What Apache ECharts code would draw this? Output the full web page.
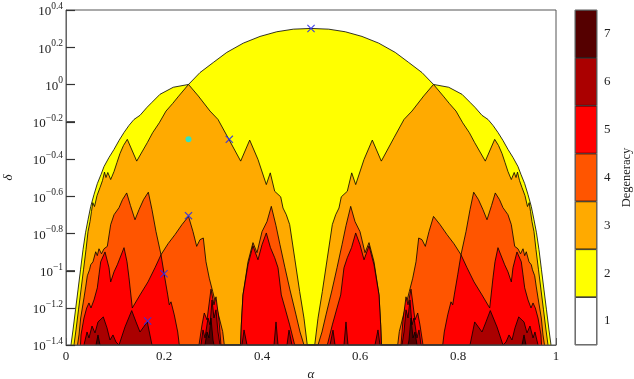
<!DOCTYPE html>
<html><head><meta charset="utf-8">
<script src="https://cdn.jsdelivr.net/npm/echarts@6/dist/echarts.min.js"></script>
<style>html,body{margin:0;padding:0;background:#fff}#c{width:634px;height:379px}</style>
</head><body><div id="c"></div>
<script>
// ---- data: upper boundaries [alpha, log10(delta)] of the region with degeneracy >= k ----
const deg2Boundary = [[0.0102,-1.4],[0.0143,-1.319],[0.0194,-1.211],[0.0245,-1.104],[0.0296,-0.996],[0.0347,-0.888],[0.0398,-0.797],[0.0449,-0.727],[0.0504,-0.656],[0.0571,-0.592],[0.0639,-0.533],[0.0714,-0.484],[0.0776,-0.441],[0.0878,-0.392],[0.098,-0.349],[0.1082,-0.301],[0.1184,-0.258],[0.1286,-0.220],[0.1388,-0.188],[0.151,-0.166],[0.1653,-0.123],[0.1755,-0.096],[0.1918,-0.053],[0.219,-0.015],[0.25,0],[0.2735,0.064],[0.3006,0.118],[0.328,0.172],[0.3618,0.222],[0.3959,0.258],[0.43,0.283],[0.4639,0.297],[0.5,0.301],
[0.5361,0.297],[0.57,0.283],[0.6041,0.258],[0.6382,0.222],[0.672,0.172],[0.6994,0.118],[0.7265,0.064],[0.75,0],[0.781,-0.015],[0.8082,-0.053],[0.8245,-0.096],[0.8347,-0.123],[0.849,-0.166],[0.8612,-0.188],[0.8714,-0.220],[0.8816,-0.258],[0.8918,-0.301],[0.902,-0.349],[0.9122,-0.392],[0.9224,-0.441],[0.9286,-0.484],[0.9361,-0.533],[0.9429,-0.592],[0.9496,-0.656],[0.9551,-0.727],[0.9602,-0.797],[0.9653,-0.888],[0.9704,-0.996],[0.9755,-1.104],[0.9806,-1.211],[0.9857,-1.319],[0.9898,-1.4]];

const deg3Boundary = [[0.0163,-1.4],[0.0204,-1.319],[0.0255,-1.211],[0.0306,-1.104],[0.0357,-0.996],[0.0408,-0.888],[0.0449,-0.791],[0.049,-0.737],[0.052,-0.683],[0.0547,-0.635],[0.0582,-0.656],[0.0633,-0.597],[0.0694,-0.554],[0.0745,-0.516],[0.0786,-0.471],[0.0816,-0.500],[0.0853,-0.473],[0.0912,-0.511],[0.098,-0.468],[0.1041,-0.419],[0.1102,-0.371],[0.1173,-0.328],[0.1251,-0.295],[0.1443,-0.412],[0.1659,-0.313],[0.1769,-0.259],[0.1904,-0.206],[0.2041,-0.143],[0.2178,-0.102],[0.2286,-0.067],[0.25,0],[0.27,-0.062],[0.2939,-0.143],[0.3102,-0.188],[0.3306,-0.286],[0.3565,-0.412],[0.3749,-0.299],[0.3918,-0.403],[0.4088,-0.538],[0.4169,-0.475],[0.4259,-0.574],[0.4382,-0.604],[0.4429,-0.664],[0.4496,-0.700],[0.4565,-0.753],[0.4667,-0.933],[0.4769,-1.113],[0.4857,-1.256],[0.4924,-1.4],
[0.5076,-1.4],[0.5143,-1.256],[0.5231,-1.113],[0.5333,-0.933],[0.5435,-0.753],[0.5504,-0.700],[0.5571,-0.664],[0.5618,-0.604],[0.5741,-0.574],[0.5831,-0.475],[0.5912,-0.538],[0.6082,-0.403],[0.6251,-0.299],[0.6435,-0.412],[0.6694,-0.286],[0.6898,-0.188],[0.7061,-0.143],[0.73,-0.062],[0.75,0],[0.7714,-0.067],[0.7822,-0.102],[0.7959,-0.143],[0.8096,-0.206],[0.8231,-0.259],[0.8341,-0.313],[0.8557,-0.412],[0.8749,-0.295],[0.8827,-0.328],[0.8898,-0.371],[0.8959,-0.419],[0.902,-0.468],[0.9088,-0.511],[0.9147,-0.473],[0.9184,-0.500],[0.9214,-0.471],[0.9255,-0.516],[0.9306,-0.554],[0.9367,-0.597],[0.9418,-0.656],[0.9453,-0.635],[0.948,-0.683],[0.951,-0.737],[0.9551,-0.791],[0.9592,-0.888],[0.9643,-0.996],[0.9694,-1.104],[0.9745,-1.211],[0.9796,-1.319],[0.9837,-1.4]];

const deg4Boundary = [[0.0235,-1.4],[0.0265,-1.346],[0.030,-1.255],[0.0367,-1.147],[0.0402,-1.088],[0.0435,-1.028],[0.048,-0.996],[0.0504,-0.969],[0.0551,-0.953],[0.0606,-0.899],[0.0639,-0.920],[0.0673,-0.883],[0.0724,-0.910],[0.0776,-0.883],[0.0843,-0.870],[0.0912,-0.753],[0.098,-0.700],[0.1082,-0.662],[0.1153,-0.619],[0.1239,-0.583],[0.1316,-0.651],[0.1408,-0.727],[0.149,-0.673],[0.1582,-0.619],[0.168,-0.579],[0.1755,-0.673],[0.1837,-0.791],[0.1939,-0.915],[0.2082,-0.856],[0.2224,-0.807],[0.2367,-0.753],[0.25,-0.709],[0.2592,-0.791],[0.2667,-0.870],[0.2735,-0.834],[0.2802,-0.825],[0.2857,-0.953],[0.2924,-1.041],[0.2994,-1.113],[0.3096,-1.221],[0.3198,-1.328],[0.3231,-1.4],[0.3561,-1.4],[0.3578,-1.292],[0.3612,-1.131],[0.3714,-0.953],[0.3816,-0.850],[0.3898,-0.904],[0.4,-0.791],[0.4102,-0.737],[0.419,-0.655],[0.4286,-0.759],[0.4367,-0.861],[0.4469,-0.985],[0.4571,-1.104],[0.4694,-1.238],[0.4776,-1.330],[0.4857,-1.4],
[0.5143,-1.4],[0.5224,-1.330],[0.5306,-1.238],[0.5429,-1.104],[0.5531,-0.985],[0.5633,-0.861],[0.5714,-0.759],[0.581,-0.655],[0.5898,-0.737],[0.6,-0.791],[0.6102,-0.904],[0.6184,-0.850],[0.6286,-0.953],[0.6388,-1.131],[0.6422,-1.292],[0.6439,-1.4],[0.6769,-1.4],[0.6802,-1.328],[0.6904,-1.221],[0.7006,-1.113],[0.7076,-1.041],[0.7143,-0.953],[0.7198,-0.825],[0.7265,-0.834],[0.7333,-0.870],[0.7408,-0.791],[0.75,-0.709],[0.7633,-0.753],[0.7776,-0.807],[0.7918,-0.856],[0.8061,-0.915],[0.8163,-0.791],[0.8245,-0.673],[0.832,-0.579],[0.8418,-0.619],[0.851,-0.673],[0.8592,-0.727],[0.8684,-0.651],[0.8761,-0.583],[0.8847,-0.619],[0.8918,-0.662],[0.902,-0.700],[0.9088,-0.753],[0.9157,-0.870],[0.9224,-0.883],[0.9276,-0.910],[0.9327,-0.883],[0.9361,-0.920],[0.9394,-0.899],[0.9449,-0.953],[0.9496,-0.969],[0.952,-0.996],[0.9565,-1.028],[0.9598,-1.088],[0.9633,-1.147],[0.970,-1.255],[0.9735,-1.346],[0.9765,-1.4]];

const deg5Boundary = [[0.0296,-1.4],[0.0306,-1.346],[0.0367,-1.255],[0.0422,-1.201],[0.0469,-1.174],[0.051,-1.201],[0.0571,-1.158],[0.0639,-1.093],[0.0673,-1.023],[0.0708,-0.953],[0.0796,-0.900],[0.0878,-0.985],[0.0912,-1.061],[0.098,-1.007],[0.1047,-0.969],[0.1184,-0.877],[0.1245,-0.953],[0.1286,-1.039],[0.1353,-1.201],[0.151,-1.131],[0.1673,-1.061],[0.1816,-0.985],[0.1939,-0.915],[0.2006,-1.023],[0.2076,-1.131],[0.2108,-1.184],[0.2143,-1.168],[0.221,-1.238],[0.228,-1.330],[0.2312,-1.4],[0.2714,-1.4],[0.2776,-1.292],[0.2822,-1.228],[0.2878,-1.265],[0.2959,-1.100],[0.302,-1.184],[0.3061,-1.141],[0.3122,-1.265],[0.3163,-1.4],[0.3565,-1.4],[0.3578,-1.292],[0.3612,-1.131],[0.3714,-0.969],[0.3816,-0.867],[0.3918,-0.942],[0.4,-0.861],[0.4088,-0.798],[0.4173,-0.877],[0.4259,-0.931],[0.4327,-0.985],[0.4394,-1.131],[0.4469,-1.201],[0.4565,-1.292],[0.4667,-1.4],
[0.5333,-1.4],[0.5435,-1.292],[0.5531,-1.201],[0.5606,-1.131],[0.5673,-0.985],[0.5741,-0.931],[0.5827,-0.877],[0.5912,-0.798],[0.6,-0.861],[0.6082,-0.942],[0.6184,-0.867],[0.6286,-0.969],[0.6388,-1.131],[0.6422,-1.292],[0.6435,-1.4],[0.6837,-1.4],[0.6878,-1.265],[0.6939,-1.141],[0.698,-1.184],[0.7041,-1.100],[0.7122,-1.265],[0.7178,-1.228],[0.7224,-1.292],[0.7286,-1.4],[0.7688,-1.4],[0.772,-1.330],[0.779,-1.238],[0.7857,-1.168],[0.7892,-1.184],[0.7924,-1.131],[0.7994,-1.023],[0.8061,-0.915],[0.8184,-0.985],[0.8327,-1.061],[0.849,-1.131],[0.8647,-1.201],[0.8714,-1.039],[0.8755,-0.953],[0.8816,-0.877],[0.8953,-0.969],[0.902,-1.007],[0.9088,-1.061],[0.9122,-0.985],[0.9204,-0.900],[0.9292,-0.953],[0.9327,-1.023],[0.9361,-1.093],[0.9429,-1.158],[0.949,-1.201],[0.9531,-1.174],[0.9578,-1.201],[0.9633,-1.255],[0.9694,-1.346],[0.9704,-1.4]];

const deg6Boundary = [[0.0367,-1.4],[0.0429,-1.330],[0.0469,-1.362],[0.0531,-1.298],[0.0592,-1.335],[0.0653,-1.276],[0.0761,-1.249],[0.0837,-1.308],[0.0898,-1.373],[0.0959,-1.346],[0.102,-1.384],[0.1082,-1.4],[0.1204,-1.303],[0.1341,-1.215],[0.1429,-1.276],[0.151,-1.330],[0.1659,-1.276],[0.1755,-1.4],[0.2755,-1.4],[0.2796,-1.319],[0.2837,-1.362],[0.2898,-1.255],[0.2939,-1.292],[0.298,-1.158],[0.302,-1.255],[0.3061,-1.211],[0.3102,-1.330],[0.3143,-1.4],[0.3592,-1.4],[0.3633,-1.319],[0.3694,-1.4],[0.4245,-1.4],[0.4286,-1.276],[0.4327,-1.4],[0.451,-1.4],[0.4551,-1.320],[0.4612,-1.4],
[0.5388,-1.4],[0.5449,-1.320],[0.549,-1.4],[0.5673,-1.4],[0.5714,-1.276],[0.5755,-1.4],[0.6306,-1.4],[0.6367,-1.319],[0.6408,-1.4],[0.6857,-1.4],[0.6898,-1.330],[0.6939,-1.211],[0.698,-1.255],[0.702,-1.158],[0.7061,-1.292],[0.7102,-1.255],[0.7163,-1.362],[0.7204,-1.319],[0.7245,-1.4],[0.8245,-1.4],[0.8341,-1.276],[0.849,-1.330],[0.8571,-1.276],[0.8659,-1.215],[0.8796,-1.303],[0.8918,-1.4],[0.898,-1.384],[0.9041,-1.346],[0.9102,-1.373],[0.9163,-1.308],[0.9239,-1.249],[0.9347,-1.276],[0.9408,-1.335],[0.9469,-1.298],[0.9531,-1.362],[0.9571,-1.330],[0.9633,-1.4]];

const deg7Boundary = [[0.0612,-1.4],[0.0653,-1.346],[0.0694,-1.4],[0.2837,-1.4],[0.2878,-1.330],[0.2918,-1.362],[0.2959,-1.255],[0.3,-1.373],[0.302,-1.4],
[0.698,-1.4],[0.7,-1.373],[0.7041,-1.255],[0.7082,-1.362],[0.7122,-1.330],[0.7163,-1.4],[0.9306,-1.4],[0.9347,-1.346],[0.9388,-1.4]];

const crossAlpha = [0.5, 0.3333, 0.25, 0.2, 0.1667];
const crossLogDelta = [0.301, -0.295, -0.705, -1.017, -1.271];
const dotAlpha = [0.25];
const dotLogDelta = [-0.295];

const levels = ['1','2','3','4','5','6','7'];
const levelColors = ['#FFFFFF','#FFFF00','#FFAA00','#FF5500','#FF0000','#AA0000','#550000'];
const xTickLabels = ['0','0.2','0.4','0.6','0.8','1'];
const yTickExponents = ['0.4','0.2','0','\u22120.2','\u22120.4','\u22120.6','\u22120.8','\u22121','\u22121.2','\u22121.4'];

// ---- chart ----
const F = '"Liberation Serif", "DejaVu Serif", serif';
const TXT = '#222';
const Y_MIN = -1.4, Y_MAX = 0.4, Y_STEP = 0.2;
const boundaries = [deg2Boundary, deg3Boundary, deg4Boundary, deg5Boundary, deg6Boundary, deg7Boundary];

const series = boundaries.map((b, i) => ({
  type: 'line', data: b, symbol: 'none', z: 2 + i, clip: true, animation: false,
  lineStyle: { color: '#000', width: 0.8 },
  areaStyle: { color: levelColors[i + 1], opacity: 1, origin: 'start' }
}));

series.push({
  type: 'scatter', z: 20, animation: false,
  data: crossAlpha.map((a, i) => [a, crossLogDelta[i]]),
  symbol: 'path://M0,0.1L0.1,0L0.5,0.4L0.9,0L1,0.1L0.6,0.5L1,0.9L0.9,1L0.5,0.6L0.1,1L0,0.9L0.4,0.5Z',
  symbolSize: 8, itemStyle: { color: '#3030e8', opacity: 0.9 }
});
series.push({
  type: 'scatter', z: 21, animation: false,
  data: dotAlpha.map((a, i) => [a, dotLogDelta[i]]),
  symbol: 'circle', symbolSize: 6, itemStyle: { color: '#00F0F0' }
});
series.push({
  type: 'bar', xAxisIndex: 1, yAxisIndex: 1, animation: false, barWidth: '100%',
  data: levels.map((l, i) => ({ value: 1, itemStyle: { color: levelColors[i] } })),
  itemStyle: { borderColor: '#000', borderWidth: 0.7 }
});

const chart = echarts.init(document.getElementById('c'), null, { renderer: 'canvas' });
chart.setOption({
  backgroundColor: '#fff',
  animation: false,
  grid: [
    { left: 66, top: 10, width: 490, height: 335, show: true, borderColor: '#555', borderWidth: 1, backgroundColor: 'transparent', z: 10, outerBoundsMode: 'none', containLabel: false },
    { left: 575, top: 10, width: 22, height: 335, show: true, borderColor: '#777', borderWidth: 1, backgroundColor: 'transparent', z: 10, outerBoundsMode: 'none', containLabel: false }
  ],
  xAxis: [
    { gridIndex: 0, type: 'value', min: 0, max: 1, interval: 0.2, position: 'bottom',
      axisLine: { show: true, onZero: false, lineStyle: { color: '#666', width: 1 } }, splitLine: { show: false },
      axisTick: { show: true, inside: true, length: 7, lineStyle: { color: '#555', width: 1 } },
      axisLabel: { formatter: v => xTickLabels[Math.round(v / 0.2)], fontFamily: F, fontSize: 13, color: TXT, margin: 5 },
      name: '\u03b1', nameLocation: 'middle', nameGap: 21,
      nameTextStyle: { fontFamily: F, fontSize: 13, fontStyle: 'italic', color: TXT } },
    { gridIndex: 1, type: 'value', min: 0, max: 1, show: false }
  ],
  yAxis: [
    { gridIndex: 0, type: 'value', min: Y_MIN, max: Y_MAX, interval: Y_STEP, position: 'left',
      axisLine: { show: true, onZero: false, lineStyle: { color: '#777', width: 1 } }, splitLine: { show: false },
      axisTick: { show: true, inside: true, length: 9, lineStyle: { color: '#555', width: 1 } },
      axisLabel: {
        margin: 3,
        formatter: v => '{b|10}{e|' + yTickExponents[Math.round((Y_MAX - v) / Y_STEP)] + '}',
        rich: {
          b: { fontFamily: F, fontSize: 13, color: TXT, verticalAlign: 'bottom', lineHeight: 17 },
          e: { fontFamily: F, fontSize: 9.5, color: TXT, verticalAlign: 'top', lineHeight: 11 }
        }
      },
      name: '\u03b4', nameLocation: 'middle', nameGap: 51, nameRotate: 90,
      nameTextStyle: { fontFamily: F, fontSize: 13, fontStyle: 'italic', color: TXT } },
    { gridIndex: 1, type: 'category', data: levels, position: 'right',
      axisLine: { show: false, onZero: false }, axisTick: { show: false },
      axisLabel: { fontFamily: F, fontSize: 13, color: TXT, margin: 7 },
      name: 'Degeneracy', nameLocation: 'middle', nameGap: 23, nameRotate: 90,
      nameTextStyle: { fontFamily: F, fontSize: 12.5, color: TXT } }
  ],
  series: series
});

// inward y ticks, placed through the chart's own y scale
const tickMarks = yTickExponents.map((_, i) => {
  const p = chart.convertToPixel({ gridIndex: 0 }, [0, Y_MAX - i * Y_STEP]);
  const y = Math.round(p[1]) + 0.5;
  return { type: 'line', silent: true, z: 30,
    shape: { x1: p[0], y1: y, x2: p[0] + 9, y2: y },
    style: { stroke: '#333', lineWidth: 1.2 } };
});
chart.setOption({ graphic: tickMarks });
</script>
</body></html>
